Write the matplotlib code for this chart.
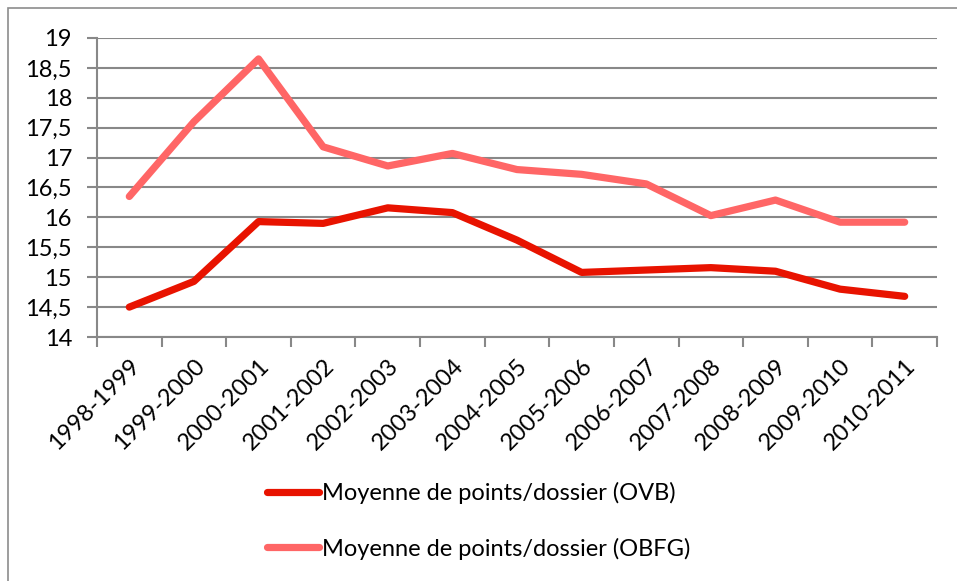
import numpy as np
import matplotlib.pyplot as plt
from matplotlib.patches import Rectangle

# school years and the two averages
years = ['1998-1999', '1999-2000', '2000-2001', '2001-2002', '2002-2003',
         '2003-2004', '2004-2005', '2005-2006', '2006-2007', '2007-2008',
         '2008-2009', '2009-2010', '2010-2011']
ovb = [14.50, 14.93, 15.93, 15.90, 16.16, 16.08, 15.62, 15.08, 15.12, 15.16, 15.10, 14.80, 14.68]
obfg = [16.35, 17.60, 18.65, 17.18, 16.86, 17.07, 16.80, 16.72, 16.56, 16.03, 16.29, 15.92, 15.92]
yticks = [14, 14.5, 15, 15.5, 16, 16.5, 17, 17.5, 18, 18.5, 19]

plt.rcParams['font.family'] = ['Lato', 'DejaVu Sans']
grid_col = '#888888'
fs = 17

fig = plt.figure(figsize=(9.57, 5.81), dpi=100)
ax = fig.add_axes([97/957, 1 - 337/581, (937 - 97)/957, (337 - 38)/581])

# outer chart frame
fig.patches.append(Rectangle((8/957, -0.01), 1.0, 1 - 8/581 + 0.01, transform=fig.transFigure,
                             fill=False, edgecolor='#8c8c8c', linewidth=1.2))

x = np.arange(len(years))
ax.plot(x, ovb, color='#E81300', lw=5.2, solid_capstyle='round', solid_joinstyle='round',
        label='Moyenne de points/dossier (OVB)', zorder=3)
ax.plot(x, obfg, color='#FF6666', lw=5.2, solid_capstyle='round', solid_joinstyle='round',
        label='Moyenne de points/dossier (OBFG)', zorder=3)

ax.set_xlim(-0.5, len(years) - 0.5)
ax.set_ylim(14, 19)
ax.set_yticks(yticks)
ax.set_yticklabels([f'{v:g}'.replace('.', ',') for v in yticks], fontsize=fs)
ax.yaxis.grid(True, color=grid_col, lw=1.5)
ax.set_axisbelow(True)

ax.set_xticks(np.arange(len(years) + 1) - 0.5)
ax.set_xticklabels([])
ax.set_xticks(x, minor=True)
ax.set_xticklabels(years, minor=True, rotation=45, ha='right', va='top',
                   rotation_mode='anchor', fontsize=fs)
ax.tick_params(axis='x', which='minor', length=0, pad=13)
ax.tick_params(axis='x', which='major', length=7, width=1.5, color=grid_col)
ax.tick_params(axis='y', length=7, width=1.5, color=grid_col, pad=11)

for s in ['top', 'right']:
    ax.spines[s].set_visible(False)
for s in ['left', 'bottom']:
    ax.spines[s].set_color(grid_col)
    ax.spines[s].set_linewidth(1.5)

fig.legend(loc='center left', bbox_to_anchor=(267/957, 1 - 521/581), frameon=False,
           fontsize=fs, handlelength=2.2, handletextpad=0.15, labelspacing=1.4,
           borderpad=0, borderaxespad=0)

fig.savefig('out.png', dpi=100)
